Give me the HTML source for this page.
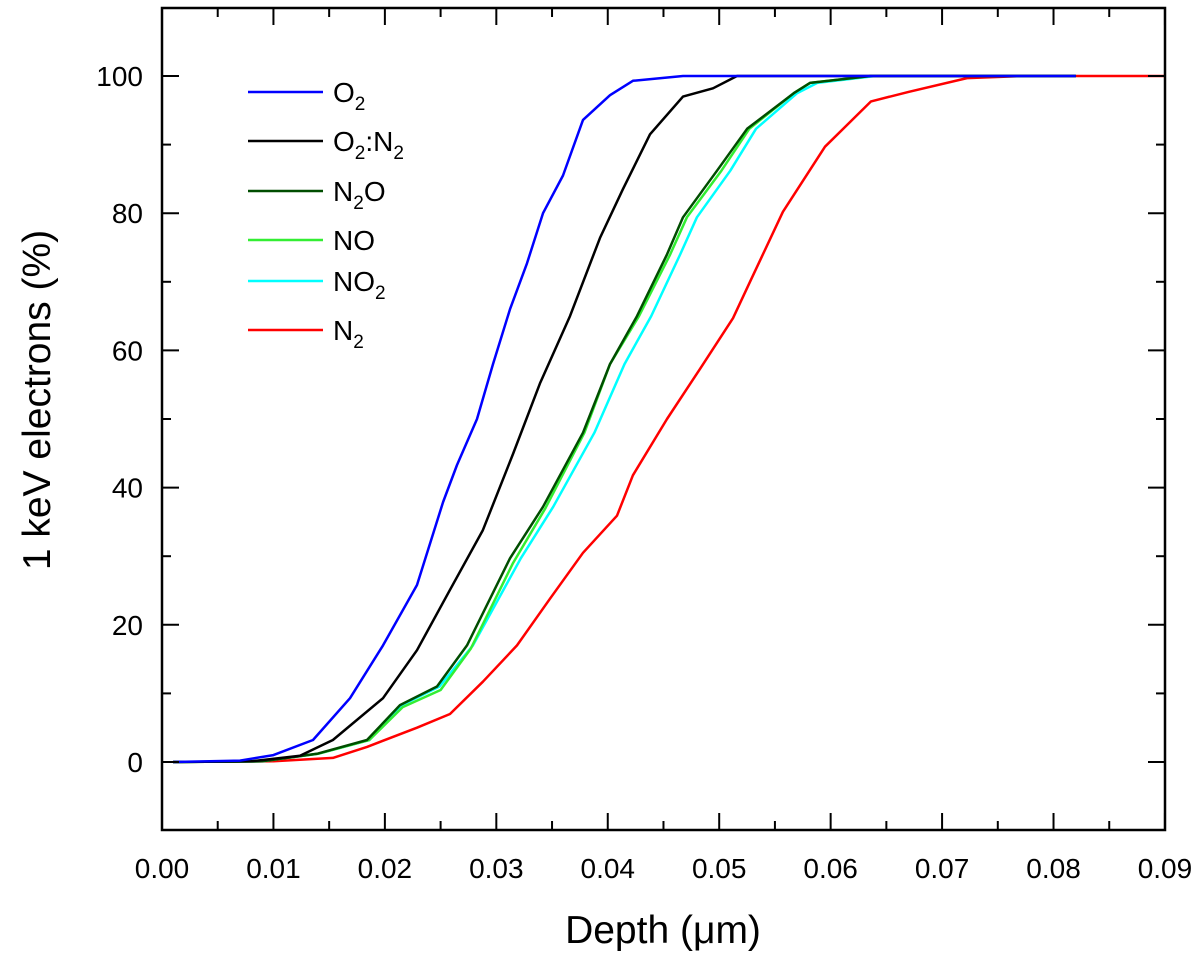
<!DOCTYPE html>
<html><head><meta charset="utf-8"><style>
body{margin:0;background:#fff;}
svg text{font-family:"Liberation Sans",Arial,sans-serif;fill:#000;}
</style></head><body>
<svg id="chart" width="1200" height="956" xmlns="http://www.w3.org/2000/svg">
<g id="marks"></g>
<rect x="162" y="8" width="1003" height="822" fill="none" stroke="#000" stroke-width="2.5"/>
<g id="ticks"></g>
<text x="663" y="943" font-size="39" text-anchor="middle">Depth (μm)</text>
<text transform="translate(50,400) rotate(-90)" font-size="39" text-anchor="middle">1 keV electrons (%)</text>
<g font-size="28">
<line x1="248" y1="92" x2="323" y2="92" stroke="#0000ff" stroke-width="2.5"/><text x="333" y="102">O<tspan font-size="19" dy="8">2</tspan></text>
<line x1="248" y1="141" x2="323" y2="141" stroke="#000" stroke-width="2.5"/><text x="333" y="151">O<tspan font-size="19" dy="8">2</tspan><tspan dy="-8">:N</tspan><tspan font-size="19" dy="8">2</tspan></text>
<line x1="248" y1="191" x2="323" y2="191" stroke="#004d00" stroke-width="2.5"/><text x="333" y="201">N<tspan font-size="19" dy="8">2</tspan><tspan dy="-8">O</tspan></text>
<line x1="248" y1="240" x2="323" y2="240" stroke="#33ee33" stroke-width="2.5"/><text x="333" y="250">NO</text>
<line x1="248" y1="281" x2="323" y2="281" stroke="#00ffff" stroke-width="2.5"/><text x="333" y="291">NO<tspan font-size="19" dy="8">2</tspan></text>
<line x1="248" y1="330" x2="323" y2="330" stroke="#ff0000" stroke-width="2.5"/><text x="333" y="340">N<tspan font-size="19" dy="8">2</tspan></text>
</g>
</svg>
<script>
const xTicks=[0,0.01,0.02,0.03,0.04,0.05,0.06,0.07,0.08,0.09];
const yTicks=[0,20,40,60,80,100];
const o2Depth=[0.001,0.007,0.0100,0.01355,0.01687,0.01983,0.02288,0.02522,0.02647,0.02827,0.0297,0.03123,0.03275,0.03419,0.03598,0.03778,0.0402,0.04226,0.04675,0.082];
const o2Pct=[0,0.2,1,3.2,9.3,17,25.8,37.9,43.3,50,58,66,72.7,80,85.5,93.6,97.2,99.3,100,100];
const o2n2Depth=[0.001,0.008,0.01238,0.01534,0.01983,0.02288,0.02584,0.0288,0.0315,0.03392,0.03661,0.0393,0.04136,0.04379,0.04675,0.04944,0.0516,0.082];
const o2n2Pct=[0,0.1,0.9,3.2,9.3,16.3,25.1,33.8,44.9,55.2,65,76.4,83.5,91.5,97,98.2,100,100];
const n2oDepth=[0.001,0.009,0.0139,0.0184,0.02136,0.02468,0.02737,0.03123,0.03419,0.03778,0.0402,0.04262,0.04532,0.04675,0.0498,0.0525,0.0567,0.05815,0.0636,0.082];
const n2oPct=[0,0.1,1.2,3.2,8.3,11,17,29.7,37.2,48,58,65,74,79.4,86.2,92.3,97.5,99,100,100];
const noDepth=[0.001,0.009,0.0140,0.0186,0.02160,0.02500,0.02770,0.03150,0.03440,0.03790,0.0402,0.04280,0.04560,0.04710,0.0502,0.0527,0.0567,0.05815,0.0636,0.082];
const noPct=[0,0.1,1.2,3.2,8.0,10.5,16.5,29,37,48,58,65,74,79.4,86.2,92.3,97.5,99,100,100];
const no2Depth=[0.001,0.009,0.0140,0.0186,0.02150,0.02490,0.02790,0.03220,0.03510,0.03880,0.0415,0.04390,0.04650,0.04800,0.0510,0.0533,0.0570,0.05880,0.0640,0.082];
const no2Pct=[0,0.1,1.2,3.2,8.3,11,17,29.7,37.2,48,58,65,74,79.4,86.2,92.3,97.5,99,100,100];
const n2Depth=[0.001,0.010,0.01534,0.0184,0.02288,0.02584,0.0288,0.03186,0.03482,0.03778,0.04083,0.04226,0.04532,0.04828,0.05124,0.05276,0.05572,0.05949,0.06362,0.06703,0.07224,0.07735,0.09];
const n2Pct=[0,0.1,0.6,2.2,5,7,11.7,17,23.8,30.5,35.9,41.8,50,57.3,64.7,70,80.2,89.7,96.3,97.7,99.7,100,100];
const x=d=>162+d*11144, y=v=>762-v*6.86;
const NS="http://www.w3.org/2000/svg";
const marks=document.getElementById('marks'), tg=document.getElementById('ticks');
const series=[[n2Depth,n2Pct,'#ff0000','n2'],[no2Depth,no2Pct,'#00ffff','no2'],[noDepth,noPct,'#33ee33','no'],[n2oDepth,n2oPct,'#004d00','n2o'],[o2n2Depth,o2n2Pct,'#000000','o2-n2'],[o2Depth,o2Pct,'#0000ff','o2']];
series.forEach(s=>{
 const pts=s[0].map((d,j)=>x(d).toFixed(1)+','+y(s[1][j]).toFixed(1));
 const p=document.createElementNS(NS,'polyline');
 p.setAttribute('points',pts.join(' '));
 p.setAttribute('fill','none');p.setAttribute('stroke',s[2]);p.setAttribute('stroke-width','2.5');p.setAttribute('stroke-linejoin','round');
 
 
 marks.appendChild(p);
});
function ln(x1,y1,x2,y2){const l=document.createElementNS(NS,'line');l.setAttribute('x1',x1);l.setAttribute('y1',y1);l.setAttribute('x2',x2);l.setAttribute('y2',y2);l.setAttribute('stroke','#000');l.setAttribute('stroke-width','2');


tg.appendChild(l);}
function tx(px,py,s,anchor){const t=document.createElementNS(NS,'text');t.setAttribute('x',px);t.setAttribute('y',py);t.setAttribute('font-size','28');t.setAttribute('text-anchor',anchor);t.textContent=s;


tg.appendChild(t);}
xTicks.forEach((v,i)=>{const px=x(v);ln(px,830,px,813);ln(px,8,px,25);tx(px,878,v.toFixed(2),'middle');
 if(i<xTicks.length-1){const m=x(v+0.005);ln(m,830,m,821);ln(m,8,m,17);}});
yTicks.forEach(v=>{const py=y(v);ln(162,py,179,py);ln(1165,py,1148,py);tx(143,py+10,String(v),'end');});
[-10,10,30,50,70,90,110].forEach(v=>{const py=y(v);if(py>=8&&py<=830){ln(162,py,171,py);ln(1165,py,1156,py);}});
</script>
</body></html>
